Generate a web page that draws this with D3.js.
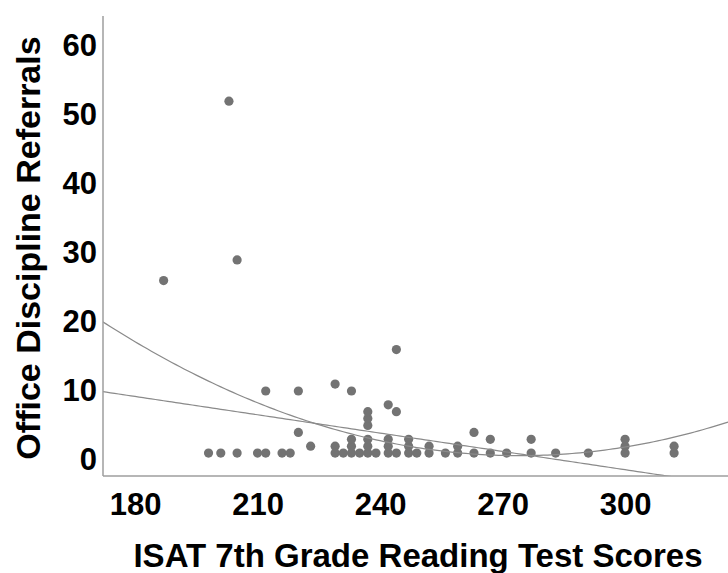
<!DOCTYPE html>
<html>
<head>
<meta charset="utf-8">
<script src="https://cdnjs.cloudflare.com/ajax/libs/d3/7.8.5/d3.min.js"></script>
<style>
  body { margin: 0; background: #fff; }
  text { font-family: "Liberation Sans", Arial, sans-serif; font-weight: bold; fill: #000; }
</style>
</head>
<body>
<div id="chart"></div>
<script>
// ISAT score vs office discipline referrals
var scores    = [187, 203, 205, 198, 201, 205, 210, 212, 216, 218,
                 212, 220, 220, 223, 229, 229, 229, 231, 233, 233,
                 233, 233, 235, 237, 237, 237, 237, 237, 237, 239,
                 242, 242, 242, 242, 244, 244, 244, 247, 247, 247,
                 249, 252, 252, 256, 259, 259, 263, 263, 267, 267,
                 271, 277, 277, 283, 291, 300, 300, 300, 312, 312];
var referrals = [26, 52, 29, 1, 1, 1, 1, 1, 1, 1,
                 10, 10, 4, 2, 11, 2, 1, 1, 10, 1,
                 2, 3, 1, 1, 2, 3, 5, 6, 7, 1,
                 1, 2, 3, 8, 1, 7, 16, 1, 2, 3,
                 1, 1, 2, 1, 1, 2, 1, 4, 1, 3,
                 1, 1, 3, 1, 1, 1, 2, 3, 1, 2];
var xTicks = [180, 210, 240, 270, 300];
var yTicks = [0, 10, 20, 30, 40, 50, 60];
// fit lines: coefficients c0 + c1*x (+ c2*x^2)
var linearFit    = [25.13, -0.08846];
var quadraticFit = [140.75, -1.0224, 0.001865];

var width = 728, height = 573;
var plot = {left: 103, right: 728, top: 16, bottom: 476};

var svg = d3.select("#chart").append("svg")
    .attr("width", width)
    .attr("height", height);

var x = d3.scaleLinear().domain([172.16, 325.2]).range([plot.left, plot.right]);
var y = d3.scaleLinear().domain([-2.32, 64.35]).range([plot.bottom, plot.top]);

svg.append("clipPath").attr("id", "clip")
  .append("rect")
    .attr("x", plot.left)
    .attr("y", plot.top)
    .attr("width", plot.right - plot.left)
    .attr("height", plot.bottom - plot.top);

// points
svg.append("g").selectAll("circle")
    .data(scores.map(function(s, i) { return [s, referrals[i]]; }))
  .enter().append("circle")
    .attr("cx", function(d) { return x(d[0]); })
    .attr("cy", function(d) { return y(d[1]); })
    .attr("r", 4.6)
    .style("fill", "#737373");

// fit lines
var xs = d3.range(172, 330, 1);
var line = d3.line()
    .x(function(d) { return x(d[0]); })
    .y(function(d) { return y(d[1]); });
var fits = [linearFit, quadraticFit];
svg.append("g").attr("clip-path", "url(#clip)")
  .selectAll("path")
    .data(fits)
  .enter().append("path")
    .attr("d", function(c) {
        return line(xs.map(function(v) {
            return [v, c[0] + c[1] * v + (c[2] || 0) * v * v];
        }));
    })
    .style("fill", "none")
    .style("stroke", "#8a8a8a")
    .style("stroke-width", 1.2);

// axes
var xAxis = svg.append("g")
    .attr("transform", "translate(0," + plot.bottom + ")")
    .call(d3.axisBottom(x).tickValues(xTicks).tickSize(0).tickPadding(17));
var yAxis = svg.append("g")
    .attr("transform", "translate(" + plot.left + ",0)")
    .call(d3.axisLeft(y).tickValues(yTicks).tickSize(0).tickPadding(6));
[xAxis, yAxis].forEach(function(a) {
    a.select(".domain").remove();
    a.selectAll("text")
        .style("font-size", "31px")
        .style("font-family", "'Liberation Sans', Arial, sans-serif")
        .style("font-weight", "bold");
});

svg.append("line")
    .attr("x1", plot.left).attr("x2", plot.right)
    .attr("y1", plot.bottom).attr("y2", plot.bottom)
    .style("stroke", "#9e9e9e").style("stroke-width", 1.5);
svg.append("line")
    .attr("x1", plot.left).attr("x2", plot.left)
    .attr("y1", plot.top).attr("y2", plot.bottom)
    .style("stroke", "#9e9e9e").style("stroke-width", 1.5);

// titles
svg.append("text")
    .attr("x", 418)
    .attr("y", 567)
    .attr("text-anchor", "middle")
    .style("font-size", "33px")
    .text("ISAT 7th Grade Reading Test Scores");
svg.append("text")
    .attr("transform", "translate(40,248) rotate(-90)")
    .attr("text-anchor", "middle")
    .style("font-size", "34px")
    .text("Office Discipline Referrals");
</script>
</body>
</html>
